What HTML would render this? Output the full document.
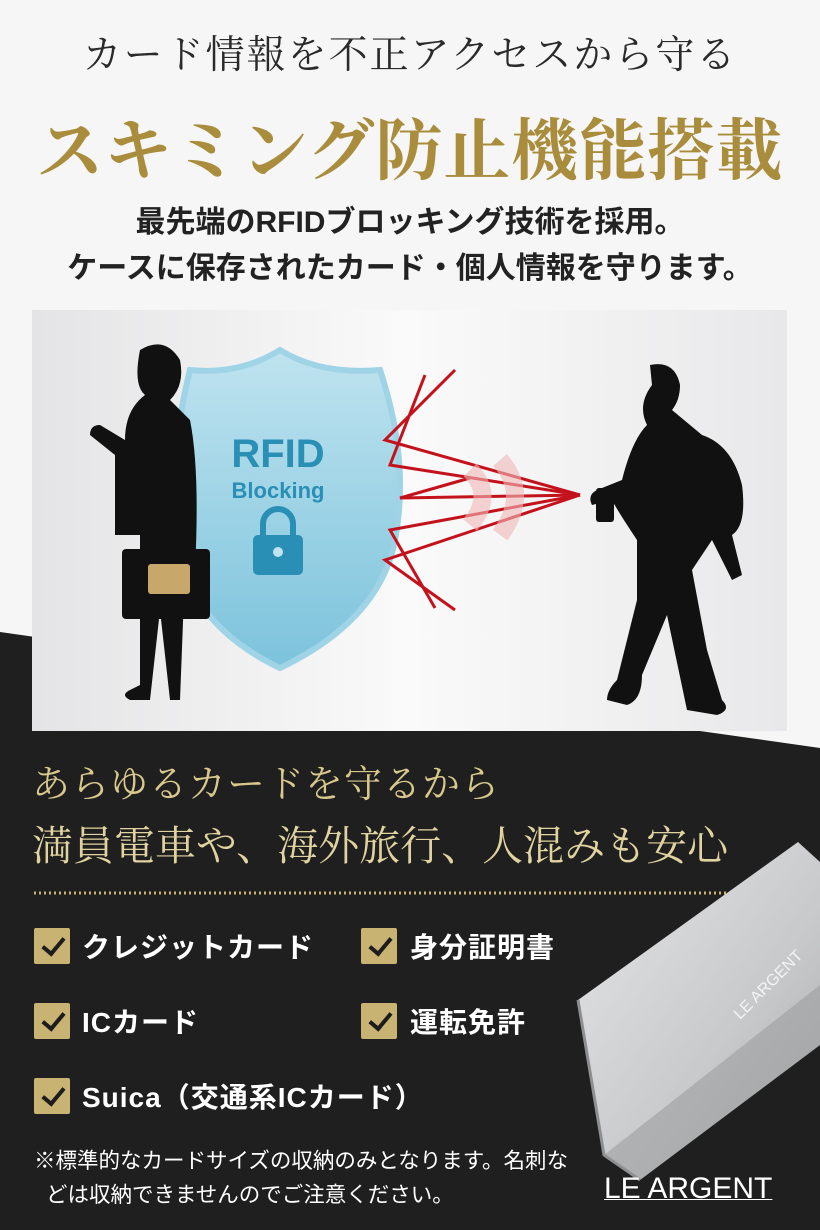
<!DOCTYPE html>
<html><head><meta charset="utf-8"><style>
*{margin:0;padding:0;box-sizing:border-box}
body{width:820px;height:1230px;position:relative;overflow:hidden;background:#f6f6f6;font-family:"Liberation Sans","Noto Sans CJK JP",sans-serif}
.abs{position:absolute;white-space:nowrap}
.serif{font-family:"Liberation Serif","Noto Serif CJK SC",serif}
.chk{position:absolute;width:36px;height:36px;background:#c9b373;border-radius:2px}
.chk:after{content:"";position:absolute;left:13px;top:5px;width:9px;height:18px;border:solid #1c1c1c;border-width:0 4px 4px 0;transform:rotate(40deg)}
.it{position:absolute;color:#fff;font-weight:bold;font-size:28px;letter-spacing:1px}
</style></head><body>
<div class="abs serif" style="left:0;width:820px;text-align:center;top:24px;font-size:39px;color:#2a2a2a;letter-spacing:2px">カード情報を不正アクセスから守る</div>
<div class="abs serif" style="left:0;width:820px;text-align:center;top:98px;font-size:67px;font-weight:bold;color:#a98d3c;letter-spacing:1px">スキミング防止機能搭載</div>
<div class="abs" style="left:0;width:820px;text-align:center;top:200px;font-size:30px;font-weight:bold;color:#222;line-height:46px">最先端のRFIDブロッキング技術を採用。<br>ケースに保存されたカード・個人情報を守ります。</div>

<svg class="abs" style="left:0;top:0" width="820" height="1230">
<defs>
<linearGradient id="bg" x1="0" x2="1"><stop offset="0" stop-color="#e4e4e6"/><stop offset=".5" stop-color="#fafafa"/><stop offset="1" stop-color="#e8e8ea"/></linearGradient>
<linearGradient id="sh" x1="0" y1="0" x2="0" y2="1"><stop offset="0" stop-color="#bfe3ef"/><stop offset="1" stop-color="#7cc3dc"/></linearGradient>
<linearGradient id="cs" x1="0" y1="0" x2="1" y2="1"><stop offset="0" stop-color="#e6e6e8"/><stop offset=".6" stop-color="#c8c9cb"/><stop offset="1" stop-color="#a9aaac"/></linearGradient>
</defs>
<polygon points="0,632 820,748 820,1230 0,1230" fill="#1f1f1f"/>
<rect x="32" y="310" width="755" height="421" fill="url(#bg)"/>
<path d="M190,370 Q240,375 280,350 Q320,375 380,370 Q410,460 395,540 Q380,620 280,668 Q200,630 180,560 Q165,470 190,370Z" fill="url(#sh)" stroke="#9fd3e6" stroke-width="6"/>
<text x="278" y="467" font-family="Liberation Sans" font-size="40" font-weight="bold" fill="#2a8fb5" text-anchor="middle">RFID</text>
<text x="278" y="498" font-family="Liberation Sans" font-size="22" font-weight="bold" fill="#2a8fb5" text-anchor="middle">Blocking</text>
<rect x="253" y="535" width="50" height="40" rx="5" fill="#2a8fb5"/>
<path d="M263,536 v-12 a15,15 0 0 1 30,0 v12" fill="none" stroke="#2a8fb5" stroke-width="6"/>
<circle cx="278" cy="552" r="5" fill="#bfe3ef"/>
<path d="M140,350 q25,-15 40,10 q5,25 -10,40 l20,20 q10,50 5,150 l-10,0 l-5,130 l-10,0 l-10,-90 l-10,90 l-20,0 q-10,-5 0,-10 l10,-5 l0,-150 l-25,0 l0,-80 l-25,-20 q0,-10 10,-10 l25,15 q0,-30 20,-45 q-12,-10 -5,-45z" fill="#111"/>
<rect x="122" y="549" width="88" height="70" rx="4" fill="#111"/>
<rect x="148" y="564" width="42" height="30" rx="3" fill="#c8a86a"/>
<g stroke="#c4121c" stroke-width="3" fill="none">
<path d="M580,495 L385,440 L455,370"/><path d="M580,495 L385,560 L455,610"/>
<path d="M580,495 L390,465 L425,375"/><path d="M580,495 L390,530 L435,608"/>
<path d="M580,495 L400,498 L470,478"/>
</g>
<path d="M470,470 q25,25 0,55 M500,460 q30,35 0,75" stroke="#f2b8b8" stroke-width="18" fill="none" opacity=".6"/>
<path d="M650,365 q25,-5 30,20 q0,15 -8,25 l30,25 q30,10 40,50 q5,40 -10,50 l10,40 l-10,5 l-20,-40 l-20,30 l15,80 l15,50 q10,10 -5,15 l-30,-5 l-20,-95 l-25,60 q0,25 -15,30 l-20,-5 q0,-10 10,-20 l20,-80 l0,-60 q-20,-30 -25,-40 l-20,5 q-5,-10 5,-15 l25,-10 q10,-40 25,-55 q-10,-20 5,-40z" fill="#111"/>
<rect x="596" y="488" width="18" height="34" rx="3" fill="#111"/>
<line x1="34" y1="893" x2="742" y2="893" stroke="#c9b373" stroke-width="3" stroke-dasharray="2,3"/>
<polygon points="578,1000 798,842 820,862 820,1045 640,1180 604,1155" fill="url(#cs)"/>
<polygon points="604,1155 820,985 820,1045 640,1180" fill="#9d9ea0" opacity=".6"/>
<polyline points="578,1000 604,1155 640,1180" fill="none" stroke="#8e8f91" stroke-width="3"/>
<text x="740" y="1020" font-family="Liberation Sans" font-size="16" fill="#f4f4f4" transform="rotate(-45 740 1020)">LE ARGENT</text>
</svg>

<div class="abs serif" style="left:32px;top:753px;font-size:38px;color:#d8c88c;letter-spacing:1px">あらゆるカードを守るから</div>
<div class="abs serif" style="left:32px;top:813px;font-size:41px;color:#e0d3a0">満員電車や、海外旅行、人混みも安心</div>

<div class="chk" style="left:34px;top:928px"></div><div class="it" style="left:82px;top:926px">クレジットカード</div>
<div class="chk" style="left:361px;top:928px"></div><div class="it" style="left:410px;top:926px">身分証明書</div>
<div class="chk" style="left:34px;top:1003px"></div><div class="it" style="left:82px;top:1001px">ICカード</div>
<div class="chk" style="left:361px;top:1003px"></div><div class="it" style="left:410px;top:1001px">運転免許</div>
<div class="chk" style="left:34px;top:1078px"></div><div class="it" style="left:82px;top:1076px">Suica（交通系ICカード）</div>

<div class="abs" style="left:34px;top:1144px;font-size:21.5px;color:#fff;line-height:34px">※標準的なカードサイズの収納のみとなります。名刺な<br>&nbsp;&nbsp;どは収納できませんのでご注意ください。</div>
<div class="abs" style="left:604px;top:1172px;font-size:30px;color:#fff;letter-spacing:0;text-decoration:underline;text-decoration-thickness:1px">LE ARGENT</div>
</body></html>
